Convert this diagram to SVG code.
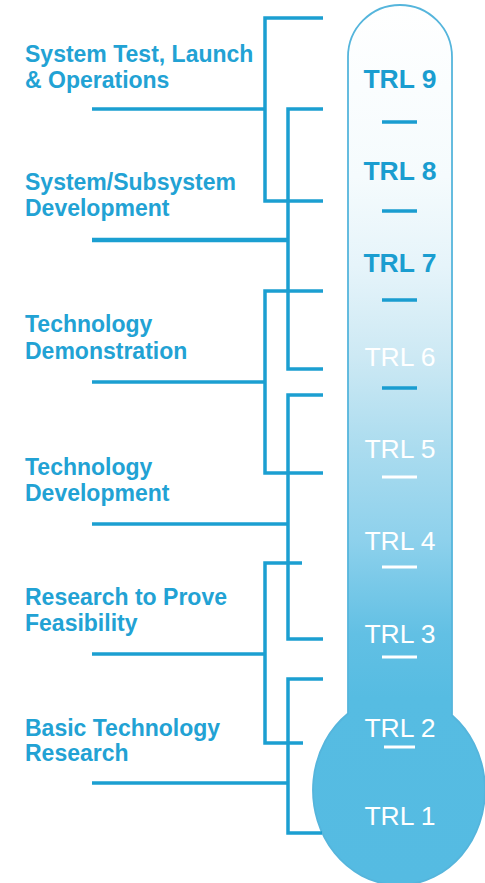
<svg xmlns="http://www.w3.org/2000/svg" width="485" height="883" viewBox="0 0 485 883">
<style>
.lbl{font-family:"Liberation Sans",Arial,sans-serif;font-weight:bold;font-size:23px;fill:#22a2d4}
.trlb{font-family:"Liberation Sans",Arial,sans-serif;font-weight:bold;font-size:26.5px;fill:#1a9dd0;text-anchor:middle}
.trlw{font-family:"Liberation Sans",Arial,sans-serif;font-size:26.5px;fill:#ffffff;text-anchor:middle}
.ln{fill:none;stroke:#1b9fd1;stroke-width:3.5;stroke-linejoin:miter;stroke-linecap:butt}
.dashb{stroke:#1a9dd0;stroke-width:3.5}
.dashw{stroke:#ffffff;stroke-width:3}
</style>
<defs>
<linearGradient id="g" gradientUnits="userSpaceOnUse" x1="0" y1="0" x2="0" y2="883">
<stop offset="0" stop-color="#ffffff"/>
<stop offset="0.2" stop-color="#f5fbfd"/>
<stop offset="0.3" stop-color="#e6f4fa"/>
<stop offset="0.403" stop-color="#cde9f4"/>
<stop offset="0.507" stop-color="#abdcef"/>
<stop offset="0.61" stop-color="#8ed1ec"/>
<stop offset="0.717" stop-color="#62c0e4"/>
<stop offset="0.79" stop-color="#56bce2"/>
<stop offset="1" stop-color="#55bbe2"/>
</linearGradient>
</defs>
<rect width="485" height="883" fill="#ffffff"/>
<g id="thermometer">
<path d="M348,713.5 L348,57 A52,52 0 0 1 452,57 L452,715.2 A86,95 0 1 1 348,713.5 Z" fill="url(#g)" stroke="#55b5dc" stroke-width="1.8"/>
</g>
<g id="connectors">
<path class="ln" d="M323,18 H265 V201 H323"/>
<path class="ln" d="M92,109 H265"/>
<path class="ln" d="M323,109 H288 V369 H323"/>
<path class="ln" d="M92,240 H288" style="stroke-width:4.5"/>
<path class="ln" d="M323,291 H265 V473 H323"/>
<path class="ln" d="M92,382 H265"/>
<path class="ln" d="M323,395 H288 V639 H323"/>
<path class="ln" d="M92,524 H288"/>
<path class="ln" d="M302,563 H265 V743 H303"/>
<path class="ln" d="M92,654 H265"/>
<path class="ln" d="M323,679 H288 V833 H322"/>
<path class="ln" d="M92,783 H288"/>
</g>
<g id="label-system-test">
<text class="lbl" x="25" y="62">System Test, Launch</text>
<text class="lbl" x="25" y="88">&amp; Operations</text>
</g>
<g id="label-system-subsystem">
<text class="lbl" x="25" y="190">System/Subsystem</text>
<text class="lbl" x="25" y="216">Development</text>
</g>
<g id="label-tech-demo">
<text class="lbl" x="25" y="332">Technology</text>
<text class="lbl" x="25" y="359">Demonstration</text>
</g>
<g id="label-tech-dev">
<text class="lbl" x="25" y="475">Technology</text>
<text class="lbl" x="25" y="501">Development</text>
</g>
<g id="label-research">
<text class="lbl" x="25" y="605">Research to Prove</text>
<text class="lbl" x="25" y="631">Feasibility</text>
</g>
<g id="label-basic">
<text class="lbl" x="25" y="736">Basic Technology</text>
<text class="lbl" x="25" y="761">Research</text>
</g>
<g id="trl9"><text class="trlb" x="400" y="88">TRL 9</text></g>
<g id="trl8"><text class="trlb" x="400" y="180">TRL 8</text></g>
<g id="trl7"><text class="trlb" x="400" y="272">TRL 7</text></g>
<g id="trl6"><text class="trlw" x="400" y="366">TRL 6</text></g>
<g id="trl5"><text class="trlw" x="400" y="458">TRL 5</text></g>
<g id="trl4"><text class="trlw" x="400" y="550">TRL 4</text></g>
<g id="trl3"><text class="trlw" x="400" y="643">TRL 3</text></g>
<g id="trl2"><text class="trlw" x="400" y="737">TRL 2</text></g>
<g id="trl1"><text class="trlw" x="400" y="825">TRL 1</text></g>
<g id="dividers">
<line class="dashb" x1="382" y1="122" x2="417" y2="122"/>
<line class="dashb" x1="382" y1="211" x2="417" y2="211"/>
<line class="dashb" x1="382" y1="300" x2="417" y2="300"/>
<line class="dashb" x1="382" y1="388" x2="417" y2="388"/>
<line class="dashw" x1="382" y1="477" x2="417" y2="477"/>
<line class="dashw" x1="382" y1="567" x2="417" y2="567"/>
<line class="dashw" x1="382" y1="657" x2="417" y2="657"/>
<line class="dashw" x1="384" y1="747" x2="415" y2="747"/>
</g>
</svg>
